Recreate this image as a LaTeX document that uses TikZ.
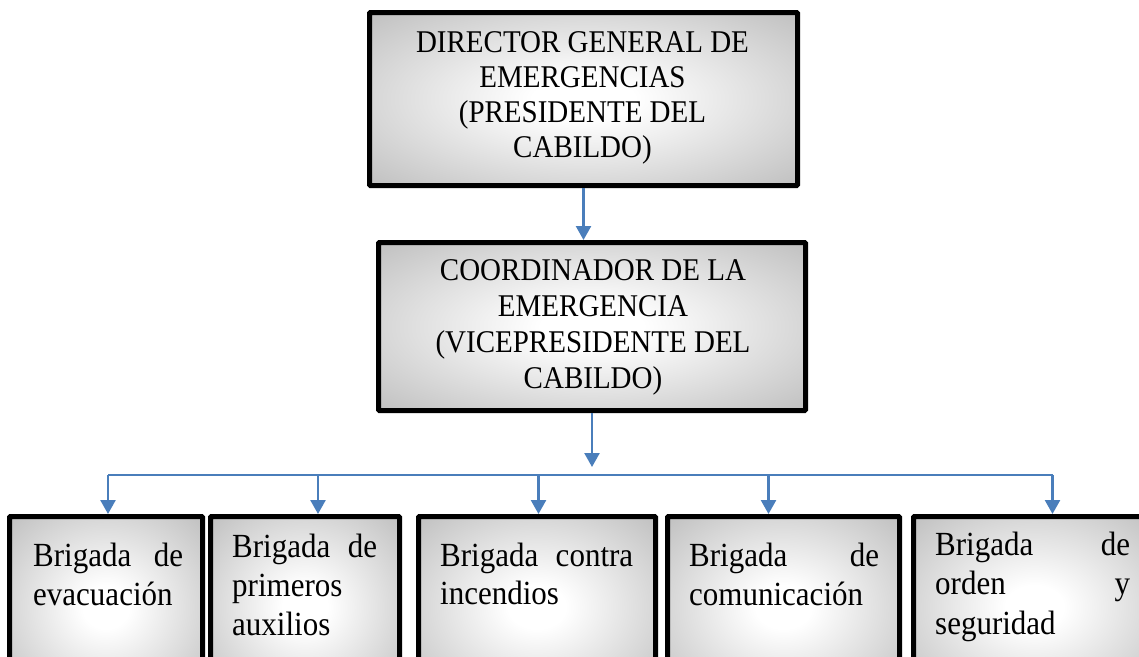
\documentclass[tikz,border=0pt]{standalone}
\usepackage{fontspec}
\setmainfont{Liberation Serif}
\usetikzlibrary{arrows.meta}
\definecolor{arrblue}{RGB}{74,126,187}
\pgfdeclareradialshading{boxshade}{\pgfpoint{0bp}{0bp}}{color(0bp)=(white); color(6bp)=(white); color(50bp)=(black!37); color(71bp)=(black!47)}
\newcommand{\vstretch}[1]{\scalebox{1}[1.09]{#1}}
\begin{document}
\begin{tikzpicture}[x=1pt,y=-1pt,
  box/.style={draw=black, line width=5pt, shade, shading=boxshade, inner sep=0pt, rounded corners=1pt},
  toptext/.style={anchor=base, inner sep=0pt},
  bottext/.style={anchor=base west, inner sep=0pt},
  conn/.style={draw=arrblue, line width=2pt},
  arr/.style={draw=arrblue, line width=2.5pt, -{Triangle[width=15pt,length=14pt]}},
]
\useasboundingbox (0,0) rectangle (1139,656);

% boxes
\node[box, minimum width=428pt, minimum height=173pt] (dir) at (583.5,99) {};
\node[box, minimum width=427pt, minimum height=168pt] (coord) at (592,326.5) {};
\node[box, minimum width=193pt, minimum height=181pt] (b1) at (106,607) {};
\node[box, minimum width=189pt, minimum height=181pt] (b2) at (305,607) {};
\node[box, minimum width=237pt, minimum height=181pt] (b3) at (537,607) {};
\node[box, minimum width=232pt, minimum height=181pt] (b4) at (783.5,607) {};
\node[box, minimum width=242pt, minimum height=181pt] (b5) at (1034.5,607) {};

% texts
\node[toptext] (dirtext) at (582.5,52.5) {\vstretch{\parbox[t]{420pt}{\centering\fontsize{29}{32.1}\selectfont
  DIRECTOR GENERAL DE\\EMERGENCIAS\\(PRESIDENTE DEL\\CABILDO)}}};
\node[toptext] (coordtext) at (593,280.5) {\vstretch{\parbox[t]{420pt}{\centering\fontsize{29}{33}\selectfont
  COORDINADOR DE LA\\EMERGENCIA\\(VICEPRESIDENTE DEL\\CABILDO)}}};

\node[bottext] (t1) at (33,566.5) {\vstretch{\parbox[t]{150pt}{\raggedright\fontsize{31}{35.6}\selectfont
  \makebox[150pt][s]{Brigada de}\\evacuación}}};
\node[bottext] (t2) at (232,557) {\vstretch{\parbox[t]{145pt}{\raggedright\fontsize{31}{35.8}\selectfont
  \makebox[145pt][s]{Brigada de}\\primeros\\auxilios}}};
\node[bottext] (t3) at (440,566) {\vstretch{\parbox[t]{193pt}{\raggedright\fontsize{31}{35.4}\selectfont
  \makebox[193pt][s]{Brigada contra}\\incendios}}};
\node[bottext] (t4) at (689,566) {\vstretch{\parbox[t]{190pt}{\raggedright\fontsize{31}{36.2}\selectfont
  \makebox[190pt][s]{Brigada de}\\comunicación}}};
\node[bottext] (t5) at (935,555) {\vstretch{\parbox[t]{195pt}{\raggedright\fontsize{31}{36.6}\selectfont
  \makebox[195pt][s]{Brigada de}\\\makebox[195pt][s]{orden y}\\seguridad}}};

% connectors
\coordinate (split) at (592,467);
\coordinate (j1) at (108,475);
\coordinate (j2) at (318,475);
\coordinate (j3) at (538.5,475);
\coordinate (j4) at (768.5,475);
\coordinate (j5) at (1052.5,475);

\draw[arr] (dir.south) -- (dir.south |- coord.north);
\draw[arr] (coord.south) -- (split);
\draw[conn] (j1) -- (j5);
\draw[arr] (j1) -- (j1 |- b1.north);
\draw[arr] (j2) -- (j2 |- b2.north);
\draw[arr] (j3) -- (j3 |- b3.north);
\draw[arr] (j4) -- (j4 |- b4.north);
\draw[arr] (j5) -- (j5 |- b5.north);
\end{tikzpicture}
\end{document}
